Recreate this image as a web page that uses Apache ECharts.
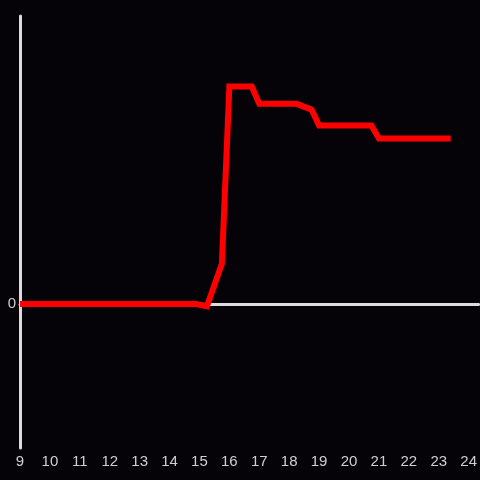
<!DOCTYPE html>
<html>
<head>
<meta charset="utf-8">
<script src="https://cdn.jsdelivr.net/npm/echarts@6/dist/echarts.min.js"></script>
<style>
  html, body { margin: 0; padding: 0; background: #050308; }
  #chart { width: 480px; height: 480px; }
</style>
</head>
<body>
<div id="chart"></div>
<script>
// hours of the day (x) and relative value (y)
const hours = [9, 14.9, 15.25, 15.75, 16, 16.75, 17, 18.25, 18.75, 19, 20.75, 21, 23.4];
const values = [0, 0, -0.015, 0.28, 1.51, 1.51, 1.39, 1.39, 1.35, 1.24, 1.24, 1.15, 1.15];
const xTicks = [9, 24];   // first and last labelled hour
const yTicks = [-1, 2];   // y extent

const points = hours.map((h, i) => [h, values[i]]);

const chart = echarts.init(document.getElementById('chart'));
chart.setOption({
  backgroundColor: '#050308',
  animation: false,
  grid: { left: 20, right: 0, top: 16, bottom: 32 },
  xAxis: [
    {
      type: 'value',
      min: xTicks[0],
      max: 24.333,
      interval: 1,
      position: 'bottom',
      axisLine: { show: false, onZero: false },
      axisTick: { show: false },
      splitLine: { show: false },
      axisLabel: {
        color: '#d0d0d0',
        fontSize: 15,
        fontFamily: 'Liberation Sans',
        margin: 6,
        showMaxLabel: false,
        formatter: v => (Number.isInteger(v) && v <= xTicks[1]) ? String(v) : ''
      }
    },
    {
      // zero line
      type: 'value',
      min: xTicks[0],
      max: 24.333,
      position: 'top',
      axisLine: { show: true, onZero: true, lineStyle: { color: '#dcdcdc', width: 3 } },
      axisTick: { show: false },
      axisLabel: { show: false },
      splitLine: { show: false }
    }
  ],
  yAxis: {
    type: 'value',
    min: yTicks[0],
    max: yTicks[1],
    interval: 1,
    axisLine: { show: true, onZero: false, lineStyle: { color: '#dcdcdc', width: 3 } },
    axisTick: { show: false },
    splitLine: { show: false },
    axisLabel: {
      color: '#d0d0d0',
      fontSize: 15,
      fontFamily: 'Liberation Sans',
      margin: 4,
      formatter: v => v === 0 ? '0' : ''
    }
  },
  series: [{
    type: 'line',
    data: points,
    showSymbol: false,
    symbol: 'none',
    lineStyle: { color: '#ff0000', width: 6, join: 'miter' }
  }]
});
</script>
</body>
</html>
